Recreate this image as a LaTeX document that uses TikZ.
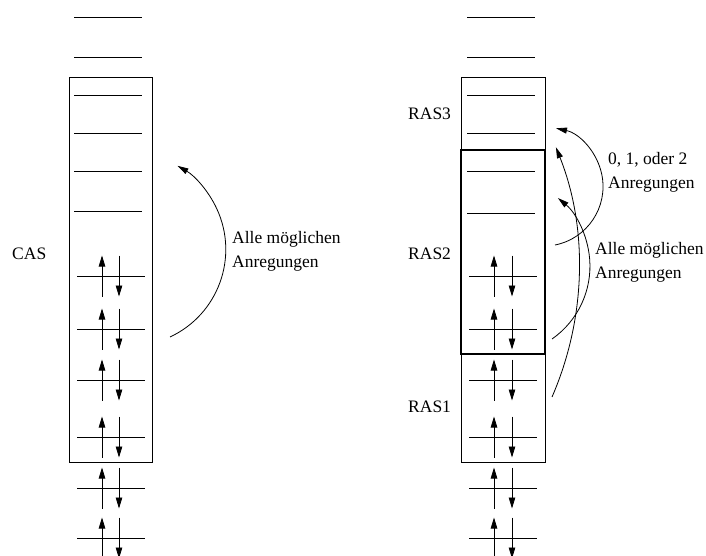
\documentclass[tikz,border=0pt]{standalone}
\usepackage{fontspec}
\setmainfont{Liberation Serif}
\usetikzlibrary{arrows.meta}
\begin{document}
\begin{tikzpicture}[x=1pt,y=1pt,
  lev/.style={line width=0.8pt},
  boxline/.style={draw,line width=0.75pt},
  rasbox/.style={draw,line width=1.2pt},
  spin/.style={line width=0.8pt,-{Triangle[length=11pt,width=6.5pt]}},
  exc/.style={line width=0.8pt,-{Triangle[length=11pt,width=6pt]}},
  lbl/.style={font=\fontsize{17.5}{24}\selectfont,inner sep=0pt},
]
\useasboundingbox (0,0) rectangle (706,-556);
% ---------- left column (CAS) ----------
\draw[boxline] (69,-77) rectangle (152,-462);
\foreach \y in {17,57,95,133,171,211}{\draw[lev] (74,-\y) -- (142,-\y);}
\foreach \y in {276,329,380,437,488,538}{
  \draw[lev] (77,-\y) -- (145,-\y);
  \draw[spin] (102,{-\y-20.5}) -- (102,{-\y+20.5});
  \draw[spin] (119,{-\y+20.5}) -- (119,{-\y-20.5});
}
\node[lbl,anchor=west] (cas) at (12,-254) {CAS};
\coordinate (Ls) at (170,-337);
\draw[exc] (Ls) arc[start angle=-65,end angle=60,radius=96.6];
\node[lbl,anchor=base west] (lalle) at (232,-243) {Alle möglichen};
\node[lbl,anchor=base west] (lanr) at (232,-267) {Anregungen};
% ---------- right column (RAS) ----------
\draw[boxline] (461,-77) rectangle (545,-462);
\draw[rasbox] (461,-150) rectangle (545,-354);
\foreach \y in {17,57,95,133,171,213}{\draw[lev] (467,-\y) -- (535,-\y);}
\foreach \y in {276,329,380,437,488,538}{
  \draw[lev] (469,-\y) -- (537,-\y);
  \draw[spin] (494,{-\y-20.5}) -- (494,{-\y+20.5});
  \draw[spin] (512,{-\y+20.5}) -- (512,{-\y-20.5});
}
\node[lbl,anchor=west] (ras3) at (408,-114) {RAS3};
\node[lbl,anchor=west] (ras2) at (408,-254) {RAS2};
\node[lbl,anchor=west] (ras1) at (408,-407) {RAS1};
\coordinate (As) at (555,-245);
\coordinate (Bs) at (552,-339);
\coordinate (Cs) at (552,-397);
\draw[exc] (As) arc[start angle=-78.8,end angle=77.8,radius=59.6];
\draw[exc] (Bs) arc[start angle=-55.1,end angle=50.3,radius=88.7];
\draw[exc] (Cs) arc[start angle=-23.5,end angle=21.7,radius=325];
\node[lbl,anchor=base west] (r012) at (608,-165) {0, 1, oder 2};
\node[lbl,anchor=base west] (ranr1) at (608,-189) {Anregungen};
\node[lbl,anchor=base west] (ralle) at (595,-254) {Alle möglichen};
\node[lbl,anchor=base west] (ranr2) at (595,-278) {Anregungen};
\end{tikzpicture}
\end{document}
